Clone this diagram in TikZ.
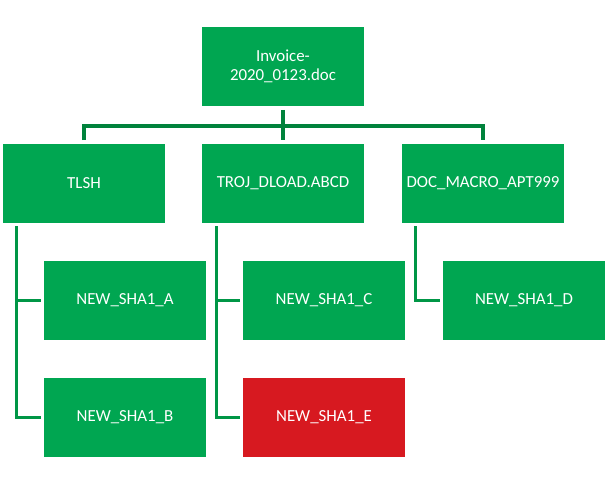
\documentclass[tikz,border=0pt]{standalone}
\usepackage{fontspec}
\setmainfont{Carlito}
\definecolor{boxgreen}{RGB}{0,166,81}
\definecolor{linegreen}{RGB}{0,130,60}
\definecolor{subgreen}{RGB}{0,150,70}
\definecolor{boxred}{RGB}{215,25,32}
\tikzset{
  file/.style={fill=boxgreen, text=white, minimum width=4.05cm, minimum height=1.975cm,
    inner sep=0pt, align=center, font=\fontsize{12}{13.3}\selectfont},
  alert/.style={file, fill=boxred},
  trunk/.style={draw=linegreen, line width=2.4pt},
  branch/.style={draw=subgreen, line width=2pt}
}
\begin{document}
\begin{tikzpicture}[x=0.025cm, y=-0.025cm]
\useasboundingbox (0,0) rectangle (608,483);

% Document
\node[file] (inv) at (283,66.5) {Invoice-\\2020\_0123.doc};

% Detections
\node[file] (tlsh) at (84,183.5) {TLSH};
\node[file] (troj) at (283,183.5) {TROJ\_DLOAD.ABCD};
\node[file] (docm) at (483,183.5) {DOC\_MACRO\_APT999};

% Hashes
\node[file] (shaA) at (125,300.5) {NEW\_SHA1\_A};
\node[file] (shaB) at (125,417.5) {NEW\_SHA1\_B};
\node[file] (shaC) at (324,300.5) {NEW\_SHA1\_C};
\node[alert] (shaE) at (324,417.5) {NEW\_SHA1\_E};
\node[file] (shaD) at (524,300.5) {NEW\_SHA1\_D};

% Bus
\coordinate (bus) at (283,126);
\draw[trunk, shorten <=2.5pt] (inv.south) -- (bus);
\draw[trunk, shorten <=2.5pt, shorten >=2.5pt] (tlsh.north) |- (bus) -| (docm.north);
\draw[trunk, shorten >=2.5pt] (bus) -- (troj.north);

% Branches
\draw[branch, shorten >=2.2pt] ([xshift=0.35cm, yshift=-2.2pt]tlsh.south west) |- (shaA.west);
\draw[branch, shorten >=2.2pt] ([xshift=0.35cm, yshift=-2.2pt]tlsh.south west) |- (shaB.west);
\draw[branch, shorten >=2.2pt] ([xshift=0.375cm, yshift=-2.2pt]troj.south west) |- (shaC.west);
\draw[branch, shorten >=2.2pt] ([xshift=0.375cm, yshift=-2.2pt]troj.south west) |- (shaE.west);
\draw[branch, shorten >=2.2pt] ([xshift=0.35cm, yshift=-2.2pt]docm.south west) |- (shaD.west);

\end{tikzpicture}
\end{document}
